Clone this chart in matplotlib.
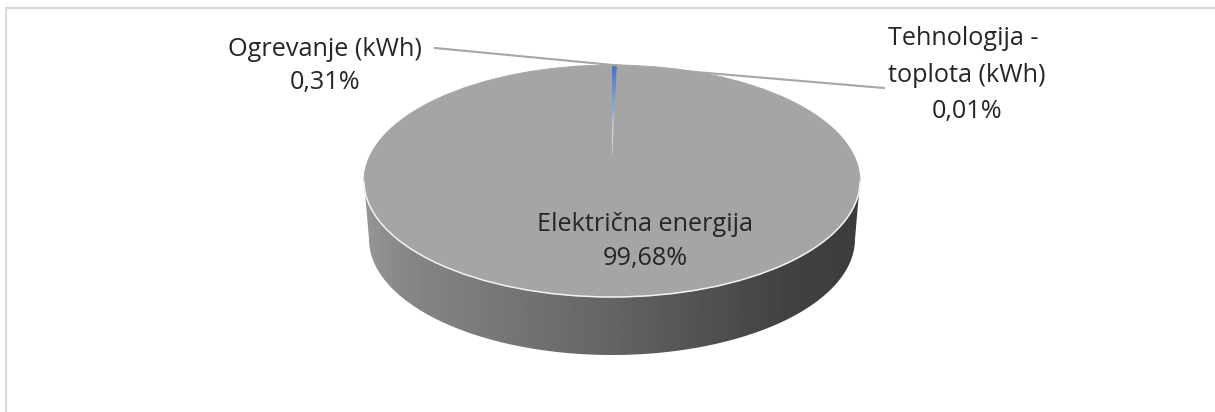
# Energy shares pie chart, drawn as a tilted disc

import numpy as np
import matplotlib.pyplot as plt
from matplotlib.patches import Arc, Polygon

plt.rcParams["font.family"] = ["Open Sans", "DejaVu Sans"]

# Data ........................................................................

categories = ["Ogrevanje (kWh)", "Tehnologija - \ntoplota (kWh)", "Električna energija"]
shares = [0.31, 0.01, 99.68]
share_labels = ["0,31%", "0,01%", "99,68%"]

# Layout in pixels ............................................................

W, H = 1215, 412
cx, cy = 612, 181  # centre of the top face
rx, ry = 248, 116
depth = 58
rx_bottom = 243  # lower rim looks narrower because of the perspective
apex_y = 160  # slices seem to meet higher up for the same reason

fig = plt.figure(figsize=(W / 100, H / 100), dpi=100, facecolor="white")

# Axes in pixel coordinates, for the frame and side of the disc
bg = fig.add_axes([0, 0, 1, 1], zorder=1)
bg.set_xlim(0, W)
bg.set_ylim(H, 0)
bg.axis("off")

# Chart frame, only top and left are visible
bg.plot([6, 6, W], [H, 8, 8], color="#d9d9d9", lw=1.6, solid_joinstyle="miter")

# Side of the disc with a horizontal gradient
t = np.linspace(np.pi, 0, 200)
upper_x = cx + rx * np.cos(t)
upper_y = cy + ry * np.sin(t)
lower_x = cx + rx_bottom * np.cos(t)
lower_y = cy + depth + ry * np.sin(t)
side_pts = np.column_stack([np.r_[upper_x, lower_x[::-1]],
                            np.r_[upper_y, lower_y[::-1]]])
side = Polygon(side_pts, closed=True, fc="none", ec="none", transform=bg.transData)
bg.add_patch(side)
xs = np.linspace(0, 1, 256)
grey = np.interp(xs, [0, 0.08, 0.5, 0.85, 1], [150, 135, 100, 66, 60])
im = bg.imshow(np.tile(grey, (2, 1)), cmap="gray", vmin=0, vmax=255, aspect="auto",
               extent=[cx - rx, cx + rx, cy + ry + depth, cy], zorder=1)
im.set_clip_path(side)
bg.set_xlim(0, W)
bg.set_ylim(H, 0)

# Top face of the disc
ax = fig.add_axes([(cx - rx) / W, 1 - (cy + ry) / H, 2 * rx / W, 2 * ry / H], zorder=2)
ax.pie(shares, startangle=90, counterclock=False, colors=["#a5a5a5"] * 3, radius=1,
       wedgeprops={"edgecolor": "#a5a5a5", "linewidth": 0.6})
ax.set_aspect("auto")
ax.set_xlim(-1, 1)
ax.set_ylim(-1, 1)
ax.axis("off")

# Small slices, drawn from the higher apex
up = apex_y - (cy - ry)
ax2 = fig.add_axes([(cx - rx) / W, 1 - (apex_y + up) / H, 2 * rx / W, 2 * up / H], zorder=3)
slices, _ = ax2.pie(shares, startangle=90, counterclock=False, radius=1)
ax2.set_aspect("auto")
ax2.set_xlim(-1, 1)
ax2.set_ylim(-1, 1)
ax2.axis("off")
for s in slices:
    s.set_visible(False)

# The blue slice fades out towards the centre
v = np.linspace(0, 1, 256)
rgba = np.ones((256, 1, 4))
rgba[:, 0, 0] = np.interp(v, [0, 0.45, 0.75, 1], [0.27, 0.55, 0.85, 0.88])
rgba[:, 0, 1] = np.interp(v, [0, 0.45, 0.75, 1], [0.45, 0.66, 0.85, 0.88])
rgba[:, 0, 2] = np.interp(v, [0, 0.45, 0.75, 1], [0.77, 0.82, 0.85, 0.88])
fade = ax2.imshow(rgba, aspect="auto", extent=[-1, 1, 0, 1], zorder=2)
fade.set_clip_path(slices[0].get_path(), slices[0].get_transform())
ax2.set_xlim(-1, 1)
ax2.set_ylim(-1, 1)

# Overlay for the rim highlight, leader lines and labels
top = fig.add_axes([0, 0, 1, 1], zorder=4)
top.set_xlim(0, W)
top.set_ylim(H, 0)
top.axis("off")
top.patch.set_alpha(0)

top.add_patch(Arc((cx, cy), 2 * rx, 2 * ry, theta1=0, theta2=180, color="#f2f2f2", lw=1.1))

top.plot([435, 613], [48, 65], color="#a6a6a6", lw=1.5)
top.plot([613, 884], [65, 88], color="#a6a6a6", lw=1.5)

text_color = "#262626"
font_size = 18.2
top.text(325, 66, categories[0] + "\n" + share_labels[0], ha="center", va="center",
         fontsize=font_size, color=text_color, linespacing=1.42)
top.text(967, 75, categories[1] + "\n" + share_labels[1], ha="center", va="center",
         fontsize=font_size, color=text_color, linespacing=1.58)
top.text(645, 241.5, categories[2] + "\n" + share_labels[2], ha="center", va="center",
         fontsize=font_size, color=text_color, linespacing=1.46)

plt.savefig("out.png", dpi=100)
